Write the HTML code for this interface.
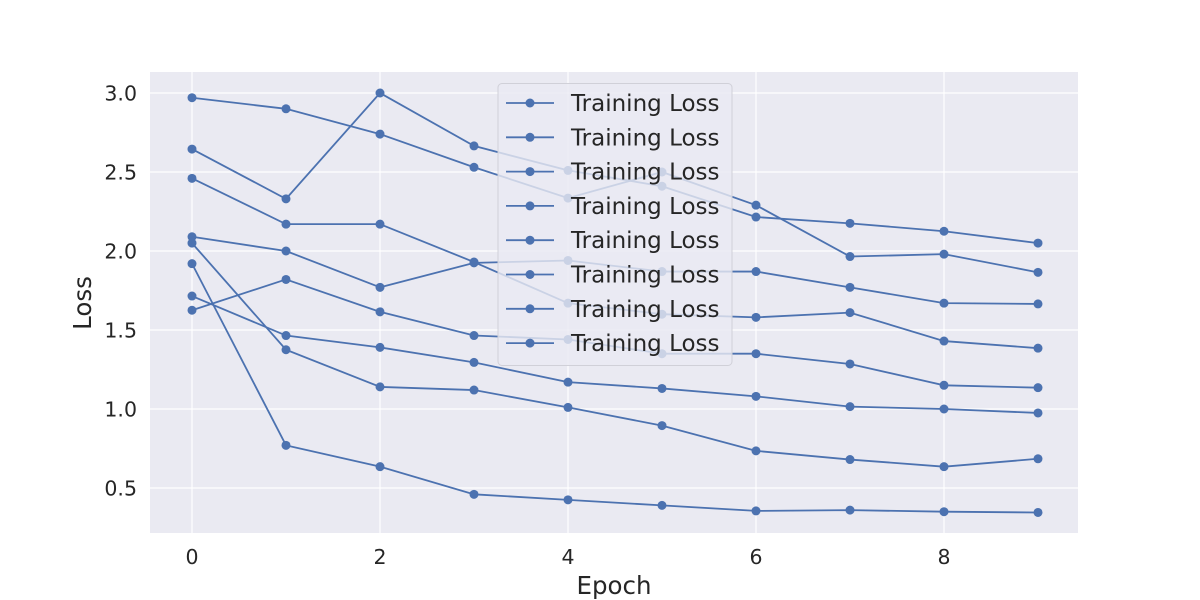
<!DOCTYPE html>
<html><head><meta charset="utf-8"><style>
body{margin:0;background:#fff;}
svg{display:block;font-family:"DejaVu Sans","Liberation Sans",sans-serif;}
</style></head><body>
<svg id="chart" width="1200" height="600">
<rect x="150" y="72" width="928" height="461" fill="#eaeaf2"/>
<g id="grid"></g><g id="series"></g><g id="axes"></g><g id="legend"></g>
</svg>
<script>
const epochs=[0,1,2,3,4,5,6,7,8,9];
const s1=[2.97,2.90,2.74,2.53,2.335,2.50,2.29,1.965,1.98,1.865];
const s2=[2.645,2.33,3.00,2.665,2.51,2.41,2.215,2.175,2.125,2.05];
const s3=[2.46,2.17,2.17,1.93,1.67,1.60,1.58,1.61,1.43,1.385];
const s4=[2.09,2.00,1.77,1.925,1.94,1.87,1.87,1.77,1.67,1.665];
const s5=[2.05,1.375,1.14,1.12,1.01,0.895,0.735,0.68,0.635,0.685];
const s6=[1.92,0.77,0.635,0.46,0.425,0.39,0.355,0.36,0.35,0.345];
const s7=[1.715,1.465,1.39,1.295,1.17,1.13,1.08,1.015,1.0,0.975];
const s8=[1.625,1.82,1.615,1.465,1.44,1.35,1.35,1.285,1.15,1.135];
const seriesList=[s1,s2,s3,s4,s5,s6,s7,s8];
const xTicks=[0,2,4,6,8];
const yTicks=[0.5,1.0,1.5,2.0,2.5,3.0];
const legendLabels=["Training Loss","Training Loss","Training Loss","Training Loss","Training Loss","Training Loss","Training Loss","Training Loss"];
const NS="http://www.w3.org/2000/svg";
const X=v=>192+v*94, Y=v=>93+(3.0-v)*158;
function mk(t,a,p){const e=document.createElementNS(NS,t);for(const k in a)e.setAttribute(k,a[k]);p.appendChild(e);return e;}
const grid=document.getElementById('grid'),axes=document.getElementById('axes'),ser=document.getElementById('series'),leg=document.getElementById('legend');
xTicks.forEach(t=>{const l=mk('line',{x1:X(t),x2:X(t),y1:72,y2:533,stroke:'#fff','stroke-width':1.2},grid);

const tx=mk('text',{x:X(t),y:564,'text-anchor':'middle','font-size':20.5,fill:'#262626'},axes);tx.textContent=t;
});
yTicks.forEach(t=>{const l=mk('line',{x1:150,x2:1078,y1:Y(t),y2:Y(t),stroke:'#fff','stroke-width':1.2},grid);

const tx=mk('text',{x:137,y:Y(t)+7.5,'text-anchor':'end','font-size':20.5,fill:'#262626'},axes);tx.textContent=t.toFixed(1);
});
const xt=mk('text',{x:614,y:594,'text-anchor':'middle','font-size':24.5,fill:'#262626'},axes);xt.textContent='Epoch';

const yt=mk('text',{x:91,y:303,'text-anchor':'middle','font-size':24.5,fill:'#262626',transform:'rotate(-90 91 303)'},axes);yt.textContent='Loss';

const C='#4c72b0';
seriesList.forEach((s,i)=>{const g=mk('g',{},ser);

const p=mk('polyline',{points:s.map((v,j)=>X(epochs[j])+','+Y(v)).join(' '),fill:'none',stroke:C,'stroke-width':1.8},g);

s.forEach((v,j)=>{const c=mk('circle',{cx:X(epochs[j]),cy:Y(v),r:4.5,fill:C},g);
});});
const lb=mk('rect',{x:498,y:83.5,width:234,height:282,rx:4,fill:'#eaeaf2','fill-opacity':0.8,stroke:'#d0d0d8'},leg);

legendLabels.forEach((t,i)=>{const y=103+i*34.3;const g=mk('g',{},leg);

mk('line',{x1:506,x2:554,y1:y,y2:y,stroke:C,'stroke-width':1.8},g);
mk('circle',{cx:530,cy:y,r:4.5,fill:C},g);
const tx=mk('text',{x:571,y:y+8,'font-size':23,fill:'#262626'},g);tx.textContent=t;});
</script>
</body></html>
